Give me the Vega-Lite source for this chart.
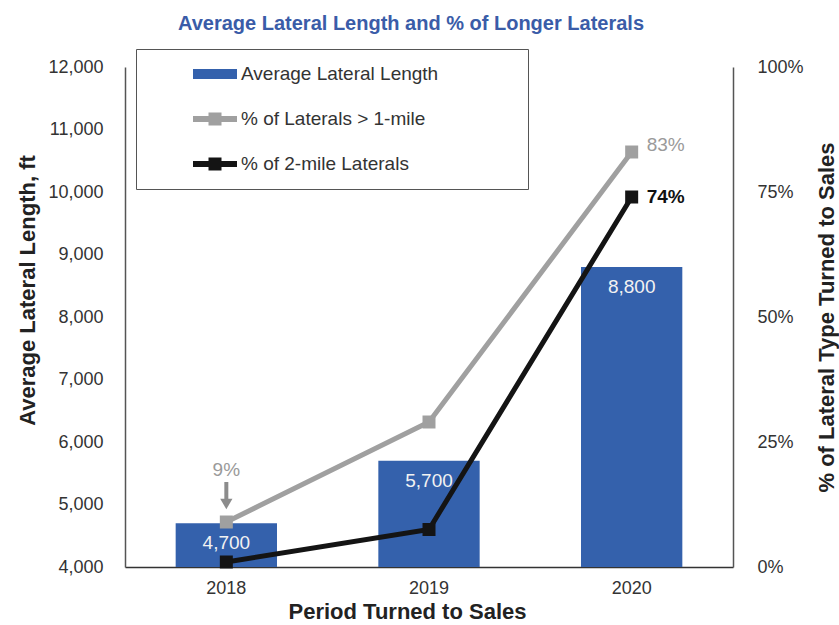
{
  "$schema": "https://vega.github.io/schema/vega-lite/v6.json",
  "width": 608,
  "height": 500,
  "autosize": {"type": "none"},
  "padding": {"left": 125, "top": 67, "right": 106, "bottom": 58},
  "background": "white",
  "title": {
    "text": "Average Lateral Length and % of Longer Laterals",
    "font": "Liberation Sans",
    "fontSize": 20,
    "fontWeight": "bold",
    "color": "#3a5ca8",
    "anchor": "middle",
    "dx": -18,
    "offset": 15
  },
  "config": {
    "view": {"stroke": null},
    "font": "Liberation Sans",
    "axis": {
      "grid": false,
      "ticks": false,
      "domainColor": "#555555",
      "domainWidth": 1.5,
      "labelFont": "Liberation Sans",
      "labelFontSize": 18,
      "labelColor": "#333333",
      "titleFont": "Liberation Sans",
      "titleFontSize": 22,
      "titleFontWeight": "bold",
      "titleColor": "#222222"
    }
  },
  "datasets": {
    "bars": [
      {"year": "2018", "length": 4700, "series": "Average Lateral Length"},
      {"year": "2019", "length": 5700, "series": "Average Lateral Length"},
      {"year": "2020", "length": 8800, "series": "Average Lateral Length"}
    ],
    "pcts": [
      {"year": "2018", "series": "% of Laterals > 1-mile", "pct": 0.09},
      {"year": "2019", "series": "% of Laterals > 1-mile", "pct": 0.29},
      {"year": "2020", "series": "% of Laterals > 1-mile", "pct": 0.83},
      {"year": "2018", "series": "% of 2-mile Laterals", "pct": 0.01},
      {"year": "2019", "series": "% of 2-mile Laterals", "pct": 0.075},
      {"year": "2020", "series": "% of 2-mile Laterals", "pct": 0.74}
    ],
    "notes": [
      {"year": "2018", "pct": 0.09, "label": "9%"},
      {"year": "2020", "pct": 0.83, "label": "83%"},
      {"year": "2020", "pct": 0.74, "label": "74%"}
    ]
  },
  "encoding": {
    "x": {
      "field": "year",
      "type": "ordinal",
      "scale": {"paddingInner": 0.5, "paddingOuter": 0.25},
      "axis": {
        "title": "Period Turned to Sales",
        "labelAngle": 0,
        "labelPadding": 12,
        "titlePadding": 4,
        "titleX": 282,
        "domainColor": "#333333"
      }
    }
  },
  "layer": [
    {
      "data": {"name": "bars"},
      "encoding": {
        "y": {
          "field": "length",
          "type": "quantitative",
          "scale": {"domain": [4000, 12000]},
          "axis": {
            "title": "Average Lateral Length, ft",
            "values": [4000, 5000, 6000, 7000, 8000, 9000, 10000, 11000, 12000],
            "format": ",d",
            "labelPadding": 22,
            "titlePadding": 8,
            "titleY": 223
          }
        }
      },
      "layer": [
        {
          "mark": {"type": "bar"},
          "encoding": {
            "y2": {"datum": 4000},
            "color": {
              "field": "series",
              "type": "nominal",
              "scale": {
                "domain": ["Average Lateral Length", "% of Laterals > 1-mile", "% of 2-mile Laterals"],
                "range": ["#3461ac", "#a0a0a0", "#141414"]
              },
              "legend": {
                "orient": "none",
                "legendX": 11,
                "legendY": -18,
                "title": "\u00a0",
                "titleOrient": "right",
                "titlePadding": 75,
                "titleFontSize": 10,
                "symbolSize": 400,
                "labelFont": "Liberation Sans",
                "labelFontSize": 19,
                "labelColor": "#333333",
                "labelLimit": 500,
                "padding": 15,
                "rowPadding": 25,
                "symbolOffset": 54,
                "labelOffset": 16,
                "strokeColor": "#555555",
                "fillColor": "white",
                "encode": {
                  "symbols": {
                    "update": {
                      "shape": {"signal": "datum.value === 'Average Lateral Length' ? 'M-2.2,-0.5H2.2V0.5H-2.2Z' : 'M-2.2,-0.3H-0.65V-0.65H0.65V-0.3H2.2V0.3H0.65V0.65H-0.65V0.3H-2.2Z'"},
                      "fill": {"signal": "scale('color', datum.value)"},
                      "stroke": {"value": "transparent"},
                      "strokeWidth": {"value": 0},
                      "opacity": {"value": 1}
                    }
                  }
                }
              }
            }
          }
        },
        {
          "mark": {"type": "text", "baseline": "top", "dy": 11, "fontSize": 19, "color": "#f2f2f2", "font": "Liberation Sans"},
          "encoding": {
            "text": {"field": "length", "type": "quantitative", "format": ","}
          }
        }
      ]
    },
    {
      "encoding": {
        "y": {
          "field": "pct",
          "type": "quantitative",
          "scale": {"domain": [0, 1]},
          "axis": {
            "orient": "right",
            "title": "% of Lateral Type Turned to Sales",
            "values": [0, 0.25, 0.5, 0.75, 1],
            "format": ".0%",
            "labelPadding": 24,
            "titlePadding": 35,
            "titleAngle": 270
          }
        }
      },
      "layer": [
        {
          "data": {"name": "pcts"},
          "mark": {"type": "line", "strokeWidth": 5},
          "encoding": {
            "color": {
              "field": "series",
              "type": "nominal",
              "scale": {
                "domain": ["Average Lateral Length", "% of Laterals > 1-mile", "% of 2-mile Laterals"],
                "range": ["#3461ac", "#a0a0a0", "#141414"]
              }
            }
          }
        },
        {
          "data": {"name": "pcts"},
          "mark": {"type": "point", "shape": "square", "filled": true, "size": 169, "opacity": 1},
          "encoding": {
            "color": {
              "field": "series",
              "type": "nominal",
              "scale": {
                "domain": ["Average Lateral Length", "% of Laterals > 1-mile", "% of 2-mile Laterals"],
                "range": ["#3461ac", "#a0a0a0", "#141414"]
              }
            }
          }
        },
        {
          "data": {"name": "notes"},
          "transform": [{"filter": "datum.label === '9%'"}],
          "mark": {"type": "rule", "stroke": "#8c8c8c", "strokeWidth": 4, "yOffset": -40, "y2Offset": -20},
          "encoding": {"y2": {"field": "pct"}}
        },
        {
          "data": {"name": "notes"},
          "transform": [{"filter": "datum.label === '9%'"}],
          "mark": {"type": "point", "shape": "triangle-down", "filled": true, "size": 150, "color": "#8c8c8c", "opacity": 1, "yOffset": -18},
          "encoding": {}
        },
        {
          "data": {"name": "notes"},
          "transform": [{"filter": "datum.label === '9%'"}],
          "mark": {"type": "text", "fontSize": 19, "color": "#9a9a9a", "dy": -52, "baseline": "middle"},
          "encoding": {"text": {"field": "label"}}
        },
        {
          "data": {"name": "notes"},
          "transform": [{"filter": "datum.label === '83%'"}],
          "mark": {"type": "text", "fontSize": 19, "color": "#9a9a9a", "dx": 15, "dy": -7, "align": "left", "baseline": "middle"},
          "encoding": {"text": {"field": "label"}}
        },
        {
          "data": {"name": "notes"},
          "transform": [{"filter": "datum.label === '74%'"}],
          "mark": {"type": "text", "fontSize": 19, "fontWeight": "bold", "color": "#111111", "dx": 15, "align": "left", "baseline": "middle"},
          "encoding": {"text": {"field": "label"}}
        }
      ]
    }
  ],
  "resolve": {"scale": {"y": "independent"}}
}
